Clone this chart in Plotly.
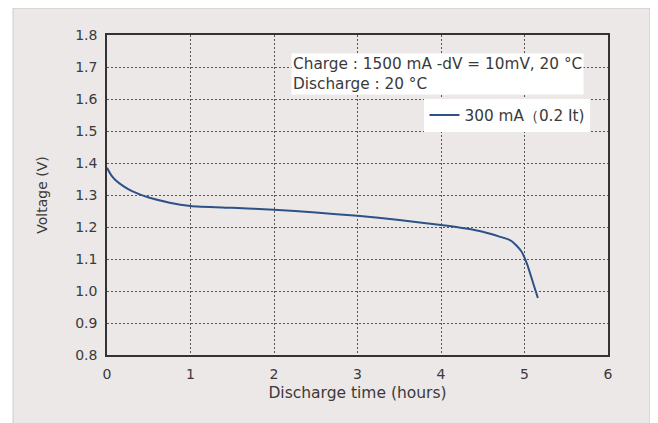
import plotly.graph_objects as go

# Data
hours = [0.0, 0.05, 0.1, 0.2, 0.3, 0.5, 0.75, 1.0, 1.5, 2.0, 2.5, 3.0, 3.5, 4.0,
         4.3, 4.5, 4.7, 4.84, 4.96, 5.03, 5.09, 5.16]
voltage = [1.385, 1.362, 1.347, 1.327, 1.312, 1.292, 1.276, 1.266, 1.26, 1.254, 1.245,
           1.235, 1.222, 1.206, 1.195, 1.185, 1.17, 1.157, 1.125, 1.085, 1.036, 0.978]
series_name = "300 mA\uff080.2 It)"
x_ticks = [0, 1, 2, 3, 4, 5, 6]
y_ticks = [0.8, 0.9, 1.0, 1.1, 1.2, 1.3, 1.4, 1.5, 1.6, 1.7, 1.8]
y_ticklabels = ["0.8", "0.9", "1.0", "1.1", "1.2", "1.3", "1.4", "1.5", "1.6", "1.7", "1.8"]

FONT = "DejaVu Sans, Liberation Sans, sans-serif"
TXT = "#3a3a3a"

fig = go.Figure()
fig.add_trace(go.Scatter(x=hours, y=voltage, mode="lines", name=series_name,
                         line=dict(color="#2c5288", width=2, shape="spline", smoothing=0.6)))

grid = dict(showgrid=True, gridcolor="#555555", gridwidth=1, griddash="2px,2px",
            showline=True, linecolor="#333333", linewidth=1.5, mirror=True,
            zeroline=False, ticks="outside", ticklen=5, tickcolor="rgba(0,0,0,0)",
            tickfont=dict(family=FONT, size=14, color=TXT))

fig.update_xaxes(range=[0, 6], tickvals=x_ticks, **grid,
                 title=dict(text="Discharge time (hours)", font=dict(family=FONT, size=15.5, color=TXT), standoff=7))
fig.update_yaxes(range=[0.8, 1.8], tickvals=y_ticks, ticktext=y_ticklabels, **grid,
                 title=dict(text="Voltage (V)", font=dict(family=FONT, size=14, color=TXT), standoff=24))

fig.add_annotation(xref="x", yref="y", x=2.2, y=1.7, xanchor="left", yanchor="middle",
                   text="Charge : 1500 mA -dV = 10mV, 20 °C<br>Discharge : 20 °C", align="left",
                   showarrow=False, bgcolor="white", yshift=-7,
                   font=dict(family=FONT, size=15.3, color=TXT))

fig.add_shape(type="rect", xref="paper", yref="paper", x0=-0.1876, x1=1.0838, y0=-0.25, y1=1.084,
              fillcolor="#ece8e8", line=dict(color="#cfcaca", width=1), layer="below")

fig.update_layout(
    width=658, height=423,
    margin=dict(l=99, r=58, t=27, b=76),
    paper_bgcolor="white", plot_bgcolor="white",
    showlegend=True,
    legend=dict(x=0.965, y=0.75, xanchor="right", yanchor="middle", bgcolor="white",
                font=dict(family=FONT, size=15.3, color=TXT), itemwidth=30,
                borderwidth=0),
    font=dict(family=FONT, color=TXT),
)

fig.write_html("out.html")
